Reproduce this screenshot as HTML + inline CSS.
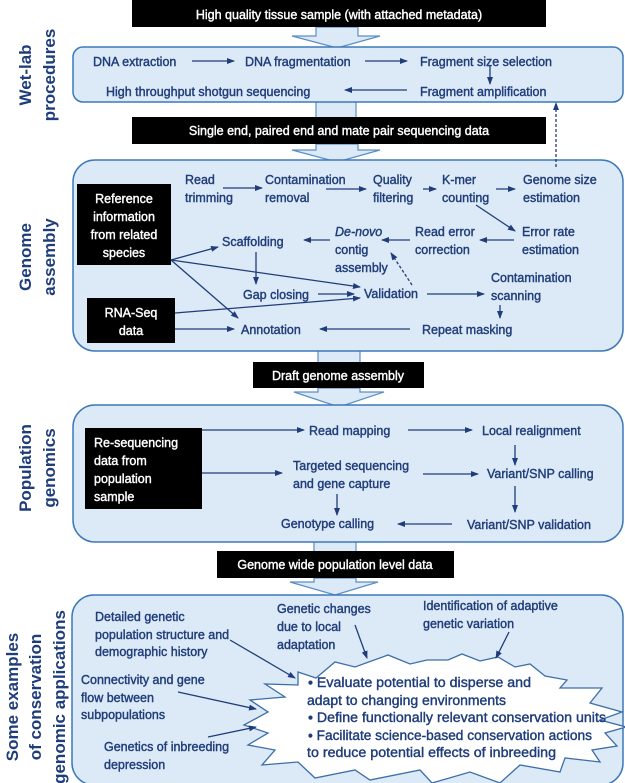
<!DOCTYPE html>
<html><head><meta charset="utf-8"><style>
html,body{margin:0;padding:0;background:#fff;}
svg{display:block;}
text{font-family:"Liberation Sans",sans-serif;}
.t{font-size:12.5px;fill:#1f3d7a;stroke:#1f3d7a;stroke-width:0.4;}
.w{font-size:12.5px;fill:#fff;stroke:#fff;stroke-width:0.4;}
.s{font-size:17px;font-weight:bold;fill:#1f3d7a;}
.a{stroke:#1f3d7a;stroke-width:1.3;fill:none;marker-end:url(#ah);}
.p{fill:#dce9f6;stroke:#3c78b9;stroke-width:1.5;}
.b{fill:#dce9f6;stroke:#5a8ec6;stroke-width:1.2;}
</style></head><body>
<svg width="625" height="783" viewBox="0 0 625 783" xmlns="http://www.w3.org/2000/svg">
<defs><marker id="ah" markerWidth="8" markerHeight="8" refX="7" refY="4" orient="auto" markerUnits="userSpaceOnUse"><path d="M0,1 L8,4 L0,7 Z" fill="#1f3d7a"/></marker></defs>

<g class="s" text-anchor="middle">
<text transform="translate(31,75) rotate(-90)">Wet-lab</text>
<text transform="translate(55,75) rotate(-90)">procedures</text>
<text transform="translate(31,257) rotate(-90)">Genome</text>
<text transform="translate(55,257) rotate(-90)">assembly</text>
<text transform="translate(31,468) rotate(-90)">Population</text>
<text transform="translate(55,468) rotate(-90)">genomics</text>
<text transform="translate(18,697) rotate(-90)">Some examples</text>
<text transform="translate(41,697) rotate(-90)">of conservation</text>
<text transform="translate(65,697) rotate(-90)">genomic applications</text>
</g>

<path class="b" d="M316,27 L358,27 L358,36 L380,36 L337,48 L292,36 L316,36 Z"/>
<path class="b" d="M316,100 L356,100 L356,120 L316,120 Z"/>
<path class="b" d="M316,144 L358,144 L358,150 L380,150 L337,162 L292,150 L316,150 Z"/>
<path class="b" d="M318,349 L360,349 L360,364 L318,364 Z"/>
<path class="b" d="M318,388 L360,388 L360,392 L384,392 L339,407 L294,392 L318,392 Z"/>
<path class="b" d="M314,540 L356,540 L356,553 L314,553 Z"/>
<path class="b" d="M314,578 L356,578 L356,582 L378,582 L335,595 L290,582 L314,582 Z"/>

<rect class="p" x="73" y="47" width="550" height="55" rx="10"/>
<rect class="p" x="73" y="160" width="550" height="191" rx="22"/>
<rect class="p" x="73" y="405" width="550" height="137" rx="22"/>
<rect class="p" x="72" y="595" width="551" height="190" rx="22"/>

<rect x="132" y="0" width="414" height="27" fill="#000"/>
<text class="w" x="339" y="19" text-anchor="middle">High quality tissue sample (with attached metadata)</text>
<rect x="132" y="117" width="414" height="27" fill="#000"/>
<text class="w" x="339" y="135" text-anchor="middle">Single end, paired end and mate pair sequencing data</text>
<rect x="253" y="362" width="171" height="26" fill="#000"/>
<text class="w" x="338" y="380" text-anchor="middle">Draft genome assembly</text>
<rect x="217" y="551" width="237" height="27" fill="#000"/>
<text class="w" x="335" y="569" text-anchor="middle">Genome wide population level data</text>

<g class="t">
<text x="93" y="66">DNA extraction</text>
<text x="245" y="66">DNA fragmentation</text>
<text x="420" y="66">Fragment size selection</text>
<text x="420" y="96">Fragment amplification</text>
<text x="106" y="96">High throughput shotgun sequencing</text>
</g>
<line class="a" x1="192" y1="61" x2="234" y2="61"/>
<line class="a" x1="365" y1="61" x2="407" y2="61"/>
<line class="a" x1="490" y1="66" x2="490" y2="84"/>
<line class="a" x1="407" y1="90" x2="345" y2="90"/>
<line class="a" x1="556" y1="167" x2="556" y2="103" stroke-dasharray="3,2"/>

<rect x="77" y="184" width="94" height="81" fill="#000"/>
<g class="w" text-anchor="middle">
<text x="124" y="203">Reference</text>
<text x="124" y="221">information</text>
<text x="124" y="239">from related</text>
<text x="124" y="257">species</text>
</g>
<rect x="87" y="298" width="88" height="45" fill="#000"/>
<g class="w" text-anchor="middle">
<text x="131" y="317">RNA-Seq</text>
<text x="131" y="335">data</text>
</g>
<g class="t">
<text x="185" y="184">Read</text><text x="185" y="202">trimming</text>
<text x="265" y="184">Contamination</text><text x="265" y="202">removal</text>
<text x="373" y="184">Quality</text><text x="373" y="202">filtering</text>
<text x="442" y="184">K-mer</text><text x="442" y="202">counting</text>
<text x="523" y="184">Genome size</text><text x="523" y="202">estimation</text>
<text x="522" y="236">Error rate</text><text x="522" y="254">estimation</text>
<text x="415" y="236">Read error</text><text x="415" y="254">correction</text>
<text x="335" y="236" font-style="italic">De-novo</text><text x="335" y="254">contig</text><text x="335" y="272">assembly</text>
<text x="222" y="246">Scaffolding</text>
<text x="243" y="299">Gap closing</text>
<text x="364" y="298">Validation</text>
<text x="491" y="282">Contamination</text><text x="491" y="300">scanning</text>
<text x="422" y="334">Repeat masking</text>
<text x="241" y="334">Annotation</text>
</g>
<line class="a" x1="223" y1="188" x2="262" y2="188"/>
<line class="a" x1="326" y1="189" x2="366" y2="189"/>
<line class="a" x1="423" y1="189" x2="436" y2="189"/>
<line class="a" x1="496" y1="189" x2="515" y2="189"/>
<line class="a" x1="476" y1="205" x2="515" y2="231"/>
<line class="a" x1="514" y1="240" x2="480" y2="240"/>
<line class="a" x1="410" y1="240" x2="382" y2="240"/>
<line class="a" x1="330" y1="240" x2="304" y2="240"/>
<line class="a" x1="256" y1="252" x2="256" y2="284"/>
<line class="a" x1="318" y1="294" x2="354" y2="294"/>
<line class="a" x1="427" y1="294" x2="484" y2="294"/>
<line class="a" x1="500" y1="305" x2="500" y2="318"/>
<line class="a" x1="410" y1="329" x2="320" y2="329"/>
<line class="a" x1="175" y1="329" x2="234" y2="329"/>
<line class="a" x1="175" y1="313" x2="360" y2="298"/>
<line class="a" x1="171" y1="260" x2="218" y2="247"/>
<line class="a" x1="171" y1="260" x2="360" y2="287"/>
<line class="a" x1="171" y1="260" x2="238" y2="318"/>
<line class="a" x1="412" y1="285" x2="391" y2="253" stroke-dasharray="3,2"/>

<rect x="85" y="428" width="117" height="81" fill="#000"/>
<g class="w">
<text x="94" y="447">Re-sequencing</text>
<text x="94" y="465">data from</text>
<text x="94" y="483">population</text>
<text x="94" y="501">sample</text>
</g>
<g class="t">
<text x="309" y="435">Read mapping</text>
<text x="482" y="435">Local realignment</text>
<text x="487" y="478">Variant/SNP calling</text>
<text x="293" y="470">Targeted sequencing</text><text x="293" y="488">and gene capture</text>
<text x="281" y="528">Genotype calling</text>
<text x="467" y="529">Variant/SNP validation</text>
</g>
<line class="a" x1="202" y1="430" x2="304" y2="430"/>
<line class="a" x1="408" y1="430" x2="472" y2="430"/>
<line class="a" x1="515" y1="445" x2="515" y2="465"/>
<line class="a" x1="202" y1="473" x2="282" y2="473"/>
<line class="a" x1="423" y1="474" x2="478" y2="474"/>
<line class="a" x1="337" y1="494" x2="337" y2="515"/>
<line class="a" x1="515" y1="486" x2="515" y2="512"/>
<line class="a" x1="452" y1="524" x2="398" y2="524"/>

<polygon fill="#fff" stroke="#3c6fa8" stroke-width="1.3" points="298,672 316,678 335,662 355,667 388,655 410,664 427,660 448,660 462,654 480,661 498,657 515,667 530,664 545,676 567,680 560,688 602,688 590,703 622,712 600,720 626,727 605,733 617,746 592,750 600,762 565,758 560,772 520,765 500,783 470,772 432,783 420,770 370,780 355,770 315,778 298,762 262,765 275,750 248,745 268,733 244,725 268,712 250,700 285,697 265,684 298,685"/>
<g class="t">
<text x="95" y="621">Detailed genetic</text>
<text x="95" y="639">population structure and</text>
<text x="95" y="656">demographic history</text>
<text x="277" y="613">Genetic changes</text>
<text x="277" y="631">due to local</text>
<text x="277" y="649">adaptation</text>
<text x="423" y="610">Identification of adaptive</text>
<text x="423" y="628">genetic variation</text>
<text x="81" y="684">Connectivity and gene</text>
<text x="81" y="702">flow between</text>
<text x="81" y="719">subpopulations</text>
<text x="104" y="751">Genetics of inbreeding</text>
<text x="104" y="769">depression</text>
<g font-size="13.5">
<text x="308" y="687" textLength="223" lengthAdjust="spacingAndGlyphs">•  Evaluate potential to disperse and</text>
<text x="307" y="705" textLength="199" lengthAdjust="spacingAndGlyphs">adapt to changing environments</text>
<text x="308" y="722" textLength="298" lengthAdjust="spacingAndGlyphs">• Define functionally relevant conservation units</text>
<text x="308" y="740" textLength="284" lengthAdjust="spacingAndGlyphs">• Facilitate science-based conservation actions</text>
<text x="307" y="757" textLength="249" lengthAdjust="spacingAndGlyphs">to reduce potential effects of inbreeding</text>
</g>
</g>
<line class="a" x1="230" y1="640" x2="295" y2="678"/>
<line class="a" x1="355" y1="625" x2="367" y2="658"/>
<line class="a" x1="509" y1="632" x2="496" y2="658"/>
<line class="a" x1="178" y1="692" x2="256" y2="709"/>
<line class="a" x1="208" y1="737" x2="256" y2="727"/>
</svg>
</body></html>
